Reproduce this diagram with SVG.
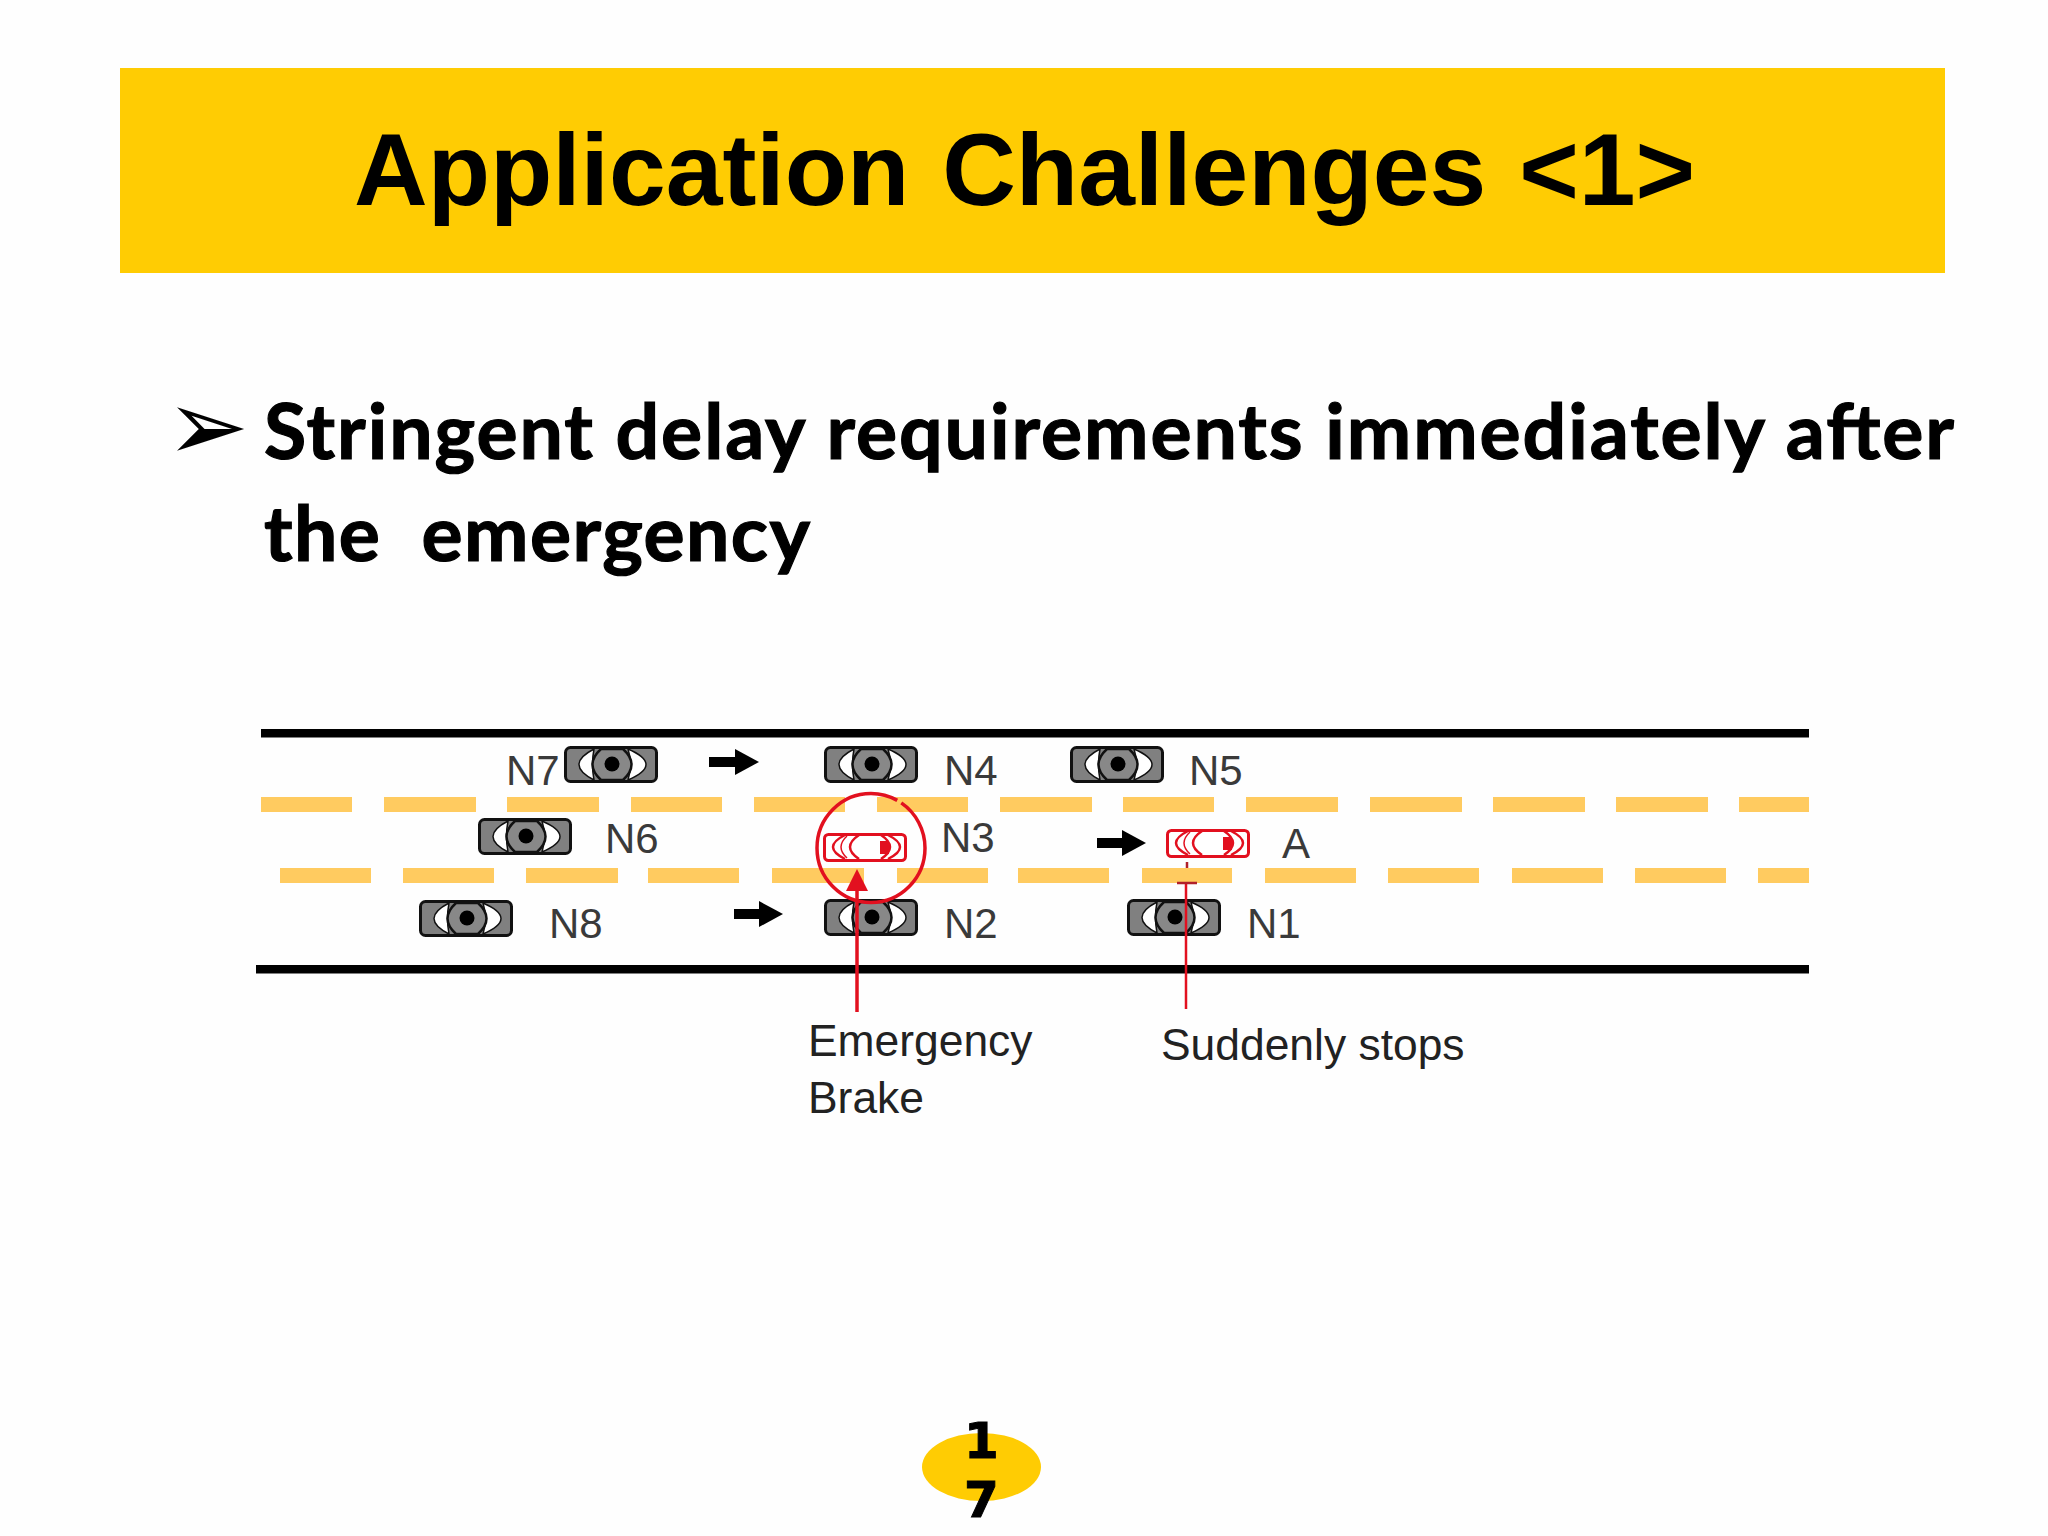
<svg xmlns="http://www.w3.org/2000/svg" width="2048" height="1536" viewBox="0 0 2048 1536">
<style>
.road{fill:#000}
.dash{fill:#FFCB60}
.lbl{font-family:"Liberation Sans",Arial,sans-serif;font-size:42px;fill:#3a3a3a}
.cap{font-family:"Liberation Sans",Arial,sans-serif;font-size:44.4px;fill:#222}
.body{font-family:Lato,"Liberation Sans",sans-serif;font-weight:700;font-size:77px;fill:#000;stroke:#000;stroke-width:1.2px}
.red{stroke:#E2101F;fill:none}
.blk{stroke:#000;stroke-width:10;fill:none}
.num{font-family:"DejaVu Sans",sans-serif;font-weight:700;font-size:50px;fill:#000;stroke:#000;stroke-width:1px;text-anchor:middle}
</style>
<defs>
<marker id="bh" markerUnits="userSpaceOnUse" markerWidth="24" markerHeight="26" refX="0" refY="13" orient="auto"><path d="M0 0L24 13L0 26z" fill="#000"/></marker>
<marker id="rh" markerUnits="userSpaceOnUse" markerWidth="22" markerHeight="22" refX="0" refY="11" orient="auto"><path d="M0 0L22 11L0 22z" fill="#E2101F"/></marker>
<g id="car">
<rect x="1.500" y="1.500" width="91" height="34" rx="5" fill="#808080" stroke="#111" stroke-width="3"/>
<path d="M30 3Q0 18.500 30 34Q27 18.500 30 3z" fill="#fff" stroke="#111" stroke-width="1.500"/>
<path d="M64 3Q100 18.500 64 34Q69 18.500 64 3z" fill="#fff" stroke="#111" stroke-width="1.500"/>
<path d="M37 3H59Q76 18.500 59 34H37Q20 18.500 37 3z" fill="#888" stroke="#111" stroke-width="2.500"/>
<circle cx="48" cy="18" r="7.500" fill="#000"/>
</g>
<g id="redcar">
<rect x="1.500" y="1.500" width="81" height="26" rx="4" fill="#fff" stroke="#E2101F" stroke-width="3"/>
<g class="red" stroke-width="2.500">
<path d="M22 2Q-2 14 22 26"/>
<path d="M24 3Q12 14 24 25" stroke-width="1.500"/>
<path d="M36 2Q18 14 36 26"/>
<path d="M58 2Q76 14 58 26"/>
<path d="M65 2Q89 14 65 26"/>
</g>
<rect x="57" y="8" width="9" height="13" fill="#E2101F"/>
</g>
</defs>
<rect width="2048" height="1536" fill="#fefefe"/>
<g id="header">
<rect x="120" y="68" width="1825" height="205" fill="#FFCC03"/>
<text x="354" y="205" font-family="'Liberation Sans',Arial,sans-serif" font-weight="700" font-size="102" word-spacing="4.500" fill="#000">Application Challenges &lt;1&gt;</text>
</g>
<g id="body">
<text x="166" y="460" font-family="'DejaVu Sans',sans-serif" font-size="99" fill="#000">➢</text>
<text class="body" x="264" y="459" textLength="1690">Stringent delay requirements immediately after</text>
<text class="body" x="264" y="561" textLength="546" xml:space="preserve">the  emergency</text>
</g>
<g id="road">
<rect class="road" x="261" y="729" width="1548" height="8.500"/>
<rect class="road" x="256" y="965" width="1553" height="8.500"/>
<g class="dash">
<rect x="261" y="797" width="91" height="15"/><rect x="384" y="797" width="92" height="15"/><rect x="507" y="797" width="92" height="15"/><rect x="631" y="797" width="91" height="15"/><rect x="754" y="797" width="91" height="15"/><rect x="877" y="797" width="91" height="15"/><rect x="1000" y="797" width="92" height="15"/><rect x="1123" y="797" width="91" height="15"/><rect x="1246" y="797" width="92" height="15"/><rect x="1370" y="797" width="92" height="15"/><rect x="1493" y="797" width="92" height="15"/><rect x="1616" y="797" width="92" height="15"/><rect x="1739" y="797" width="70" height="15"/>
<rect x="280" y="868" width="91" height="15"/><rect x="403" y="868" width="91" height="15"/><rect x="526" y="868" width="92" height="15"/><rect x="648" y="868" width="91" height="15"/><rect x="772" y="868" width="92" height="15"/><rect x="897" y="868" width="91" height="15"/><rect x="1018" y="868" width="91" height="15"/><rect x="1142" y="868" width="90" height="15"/><rect x="1265" y="868" width="91" height="15"/><rect x="1388" y="868" width="91" height="15"/><rect x="1512" y="868" width="91" height="15"/><rect x="1635" y="868" width="91" height="15"/><rect x="1758" y="868" width="51" height="15"/>
</g>
</g>
<g id="N7"><use href="#car" x="564" y="746"/><text class="lbl" x="506" y="785">N7</text></g>
<g id="N4"><use href="#car" x="824" y="746"/><text class="lbl" x="944" y="785">N4</text></g>
<g id="N5"><use href="#car" x="1070" y="746"/><text class="lbl" x="1189" y="785">N5</text></g>
<g id="N6"><use href="#car" x="478" y="818"/><text class="lbl" x="605" y="853">N6</text></g>
<g id="N8"><use href="#car" x="419" y="900"/><text class="lbl" x="549" y="938">N8</text></g>
<g id="N2"><use href="#car" x="824" y="899"/><text class="lbl" x="944" y="938">N2</text></g>
<g id="N1"><use href="#car" x="1127" y="899"/><text class="lbl" x="1247" y="938">N1</text></g>
<g id="N3"><use href="#redcar" x="823" y="833"/><ellipse class="red" cx="871" cy="848" rx="54" ry="54.500" stroke-width="3.500" pathLength="360" stroke-dasharray="299 5 56"/><text class="lbl" x="941" y="852">N3</text></g>
<g id="A"><use href="#redcar" x="1166" y="829"/><text class="lbl" x="1282" y="858">A</text></g>
<g id="connectors">
<line class="blk" x1="709" y1="762" x2="735" y2="762" marker-end="url(#bh)"/>
<line class="blk" x1="734" y1="914" x2="759" y2="914" marker-end="url(#bh)"/>
<line class="blk" x1="1097" y1="843" x2="1122" y2="843" marker-end="url(#bh)"/>
<line class="red" stroke-width="3.500" x1="857" y1="1012" x2="857" y2="891" marker-end="url(#rh)"/>
<path class="red" stroke-width="2.500" d="M1186 1009V883"/>
<path d="M1177 883H1197M1187 862V868" stroke="#B0202A" stroke-width="2.500" fill="none"/>
</g>
<g id="captions">
<text class="cap" x="808" y="1056">Emergency</text>
<text class="cap" x="808" y="1113">Brake</text>
<text class="cap" x="1161" y="1060">Suddenly stops</text>
</g>
<g id="page">
<ellipse cx="981.500" cy="1467" rx="59.500" ry="34" fill="#FFCC03"/>
<text class="num" x="981.500" y="1458">1</text>
<text class="num" x="981.500" y="1517">7</text>
</g>
</svg>
